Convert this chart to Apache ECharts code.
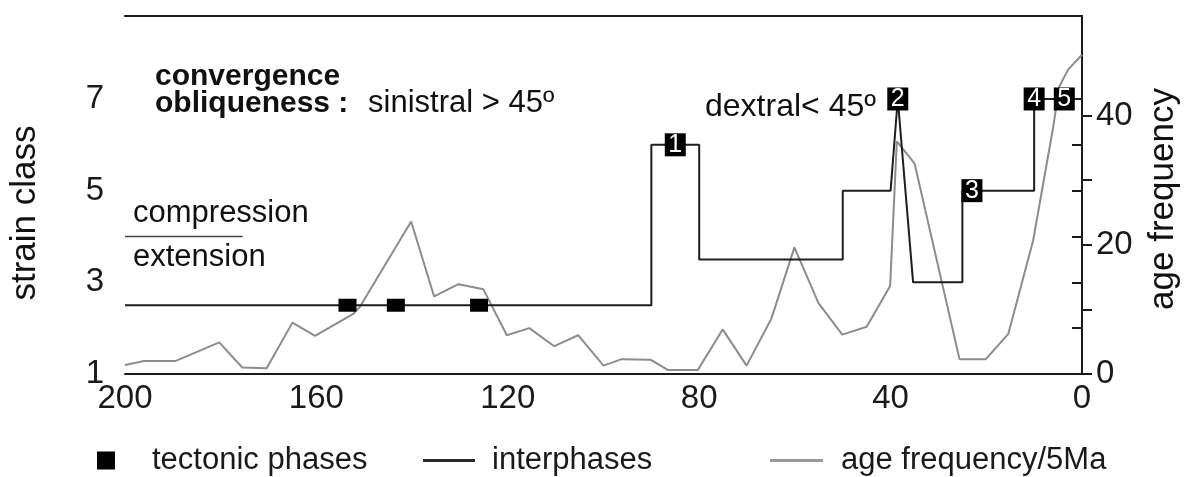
<!DOCTYPE html>
<html>
<head>
<meta charset="utf-8">
<script src="https://cdn.jsdelivr.net/npm/echarts@6/dist/echarts.min.js"></script>
<style>
html,body{margin:0;padding:0;background:#fff;}
#c{width:1185px;height:477px;}
</style>
</head>
<body>
<div id="c"></div>
<script>
// ---- data ----
const xTickLabels = [200, 160, 120, 80, 40, 0];
const leftTickLabels = [1, 3, 5, 7];
const leftTicks = [1, 2, 3, 4, 5, 6, 7];
const rightTickLabels = [0, 20, 40];
const rightTicks = [0, 10, 20, 30, 40];

// interphases (strain class, step line)
const interAge    = [200, 90, 90, 80, 80, 50, 50, 40, 38.5, 35.3, 25, 25, 10, 10, 0];
const interStrain = [2.5, 2.5, 6, 6, 3.5, 3.5, 5, 5, 7, 3, 3, 5, 5, 7, 7];

// age frequency / 5Ma (right axis)
const freqAge = [200, 196, 189.5, 180.3, 175.5, 170.4, 165, 160.3, 152.3, 150.9, 140.2, 135.4, 130.3, 125.1,
  120.2, 115.5, 110.3, 105.3, 100, 96.2, 90.1, 86.5, 80.3, 75.1, 70.1, 64.9, 60.1, 55.1, 50.1, 45,
  40.1, 38.7, 35, 25.6, 20.1, 15.4, 10.2, 6, 4.75, 2.9, 0];
const freqValue = [1.4, 2.0, 2.0, 4.9, 1.0, 0.9, 7.95, 5.9, 9.3, 10.4, 23.6, 12.0, 13.9, 13.1,
  6.0, 7.1, 4.3, 6.0, 1.3, 2.3, 2.2, 0.6, 0.6, 6.9, 1.3, 8.6, 19.6, 11.0, 6.1, 7.3,
  13.6, 36.0, 32.6, 2.3, 2.3, 6.2, 20.7, 38.3, 44.5, 47.1, 49.4];

// tectonic phases
const phaseAge    = [153.5, 143.4, 126];
const phaseStrain = [2.5, 2.5, 2.5];
const numberedAge    = [85, 38.5, 23, 10, 3.7];
const numberedStrain = [6, 7, 5, 7, 7];
const numberedLabel  = ['1', '2', '3', '4', '5'];

// compression / extension divider
const dividerAge    = [200, 175.4];
const dividerStrain = [4, 4];

// ---- build ----
const zip = (a, b) => a.map((v, i) => [v, b[i]]);
const FONT = 'Liberation Sans';
const AXIS = '#1a1a1a';

const chart = echarts.init(document.getElementById('c'), null, {renderer: 'canvas'});

const legendBase = {
  orient: 'horizontal', top: 445, itemGap: 0, padding: 0,
  textStyle: {fontFamily: FONT, fontSize: 31, color: '#1a1a1a'},
  selectedMode: false
};

chart.setOption({
  animation: false,
  backgroundColor: '#fff',
  grid: {left: 125, right: 103, top: 16, bottom: 103, containLabel: false},
  legend: [
    Object.assign({}, legendBase, {left: 97, data: [{name: 'tectonic phases', icon: 'rect'}],
      itemWidth: 18, itemHeight: 18, textStyle: Object.assign({}, legendBase.textStyle, {padding: [0, 0, 0, 32]})}),
    Object.assign({}, legendBase, {left: 423, data: [{name: 'interphases', icon: 'rect'}],
      itemWidth: 52, itemHeight: 3, textStyle: Object.assign({}, legendBase.textStyle, {padding: [0, 0, 0, 12]})}),
    Object.assign({}, legendBase, {left: 770, data: [{name: 'age frequency/5Ma', icon: 'rect'}],
      itemWidth: 53, itemHeight: 3, textStyle: Object.assign({}, legendBase.textStyle, {padding: [0, 0, 0, 13]})})
  ],
  xAxis: [{
    type: 'value', inverse: true, min: 0, max: 200, interval: 40, position: 'bottom',
    axisLine: {show: true, lineStyle: {color: AXIS, width: 2}},
    axisTick: {show: false}, splitLine: {show: false},
    axisLabel: {fontFamily: FONT, fontSize: 33, color: '#1a1a1a', margin: 8,
      customValues: xTickLabels}
  }, {
    type: 'value', inverse: true, min: 0, max: 200, position: 'top',
    axisLine: {show: true, lineStyle: {color: AXIS, width: 2}},
    axisTick: {show: false}, axisLabel: {show: false}, splitLine: {show: false}
  }],
  yAxis: [{
    type: 'value', min: 1, max: 8.81, position: 'left',
    axisLine: {show: true, lineStyle: {color: AXIS, width: 2}},
    axisTick: {show: true, inside: false, length: 10, lineStyle: {color: AXIS, width: 2},
      customValues: leftTicks.concat([8.81])},
    axisLabel: {fontFamily: FONT, fontSize: 33, color: '#1a1a1a', margin: 21,
      customValues: leftTickLabels},
    splitLine: {show: false}
  }, {
    type: 'value', min: 0, max: 55.4, position: 'right',
    axisLine: {show: true, lineStyle: {color: AXIS, width: 2}},
    axisTick: {show: true, inside: false, length: 10, lineStyle: {color: AXIS, width: 2},
      customValues: rightTicks},
    axisLabel: {fontFamily: FONT, fontSize: 33, color: '#1a1a1a', margin: 14,
      customValues: rightTickLabels},
    splitLine: {show: false}
  }],
  series: [
    {
      name: 'age frequency/5Ma', type: 'line', yAxisIndex: 1, xAxisIndex: 0,
      data: zip(freqAge, freqValue), showSymbol: false, symbol: 'none',
      lineStyle: {color: '#8c8c8c', width: 2}, itemStyle: {color: '#9a9a9a'}, z: 2
    },
    {
      name: 'interphases', type: 'line', yAxisIndex: 0, xAxisIndex: 0,
      data: zip(interAge, interStrain), showSymbol: false, symbol: 'none',
      lineStyle: {color: '#1e1e1e', width: 2}, itemStyle: {color: '#2a2a2a'}, z: 3
    },
    {
      name: 'divider', type: 'line', yAxisIndex: 0, xAxisIndex: 0,
      data: zip(dividerAge, dividerStrain), showSymbol: false, symbol: 'none',
      lineStyle: {color: '#444', width: 1.5}, z: 3
    },
    {
      name: 'tectonic phases', type: 'scatter', yAxisIndex: 0, xAxisIndex: 0,
      data: zip(phaseAge, phaseStrain), symbol: 'rect', symbolSize: [18, 13],
      itemStyle: {color: '#000', opacity: 1}, z: 5
    },
    {
      name: 'tectonic phases', type: 'scatter', yAxisIndex: 0, xAxisIndex: 0,
      data: numberedAge.map((a, i) => [a, numberedStrain[i], numberedLabel[i]]),
      symbol: 'rect', symbolSize: [21, 23],
      itemStyle: {color: '#000', opacity: 1},
      label: {show: true, position: 'inside', formatter: p => p.value[2],
        color: '#fff', fontFamily: FONT, fontSize: 25},
      z: 6
    }
  ],
  graphic: [
    {type: 'text', left: 155, top: 62, style: {text: 'convergence', fontFamily: FONT, fontWeight: 'bold', fontSize: 30, fill: '#111'}},
    {type: 'text', left: 155, top: 89, style: {text: 'obliqueness :', fontFamily: FONT, fontWeight: 'bold', fontSize: 30, fill: '#111'}},
    {type: 'text', left: 368, top: 88, style: {text: 'sinistral > 45º', fontFamily: FONT, fontSize: 31, fill: '#111'}},
    {type: 'text', left: 705, top: 91, style: {text: 'dextral< 45º', fontFamily: FONT, fontSize: 32, fill: '#111'}},
    {type: 'text', left: 133, top: 198, style: {text: 'compression', fontFamily: FONT, fontSize: 31, fill: '#111'}},
    {type: 'text', left: 133, top: 242, style: {text: 'extension', fontFamily: FONT, fontSize: 31, fill: '#111'}},
    {type: 'text', x: 25, y: 213, rotation: Math.PI / 2,
      style: {text: 'strain class', fontFamily: FONT, fontSize: 35, fill: '#111', align: 'center', verticalAlign: 'middle'}},
    {type: 'text', x: 1163, y: 199, rotation: Math.PI / 2,
      style: {text: 'age frequency', fontFamily: FONT, fontSize: 35, fill: '#111', align: 'center', verticalAlign: 'middle'}}
  ]
});
</script>
</body>
</html>
